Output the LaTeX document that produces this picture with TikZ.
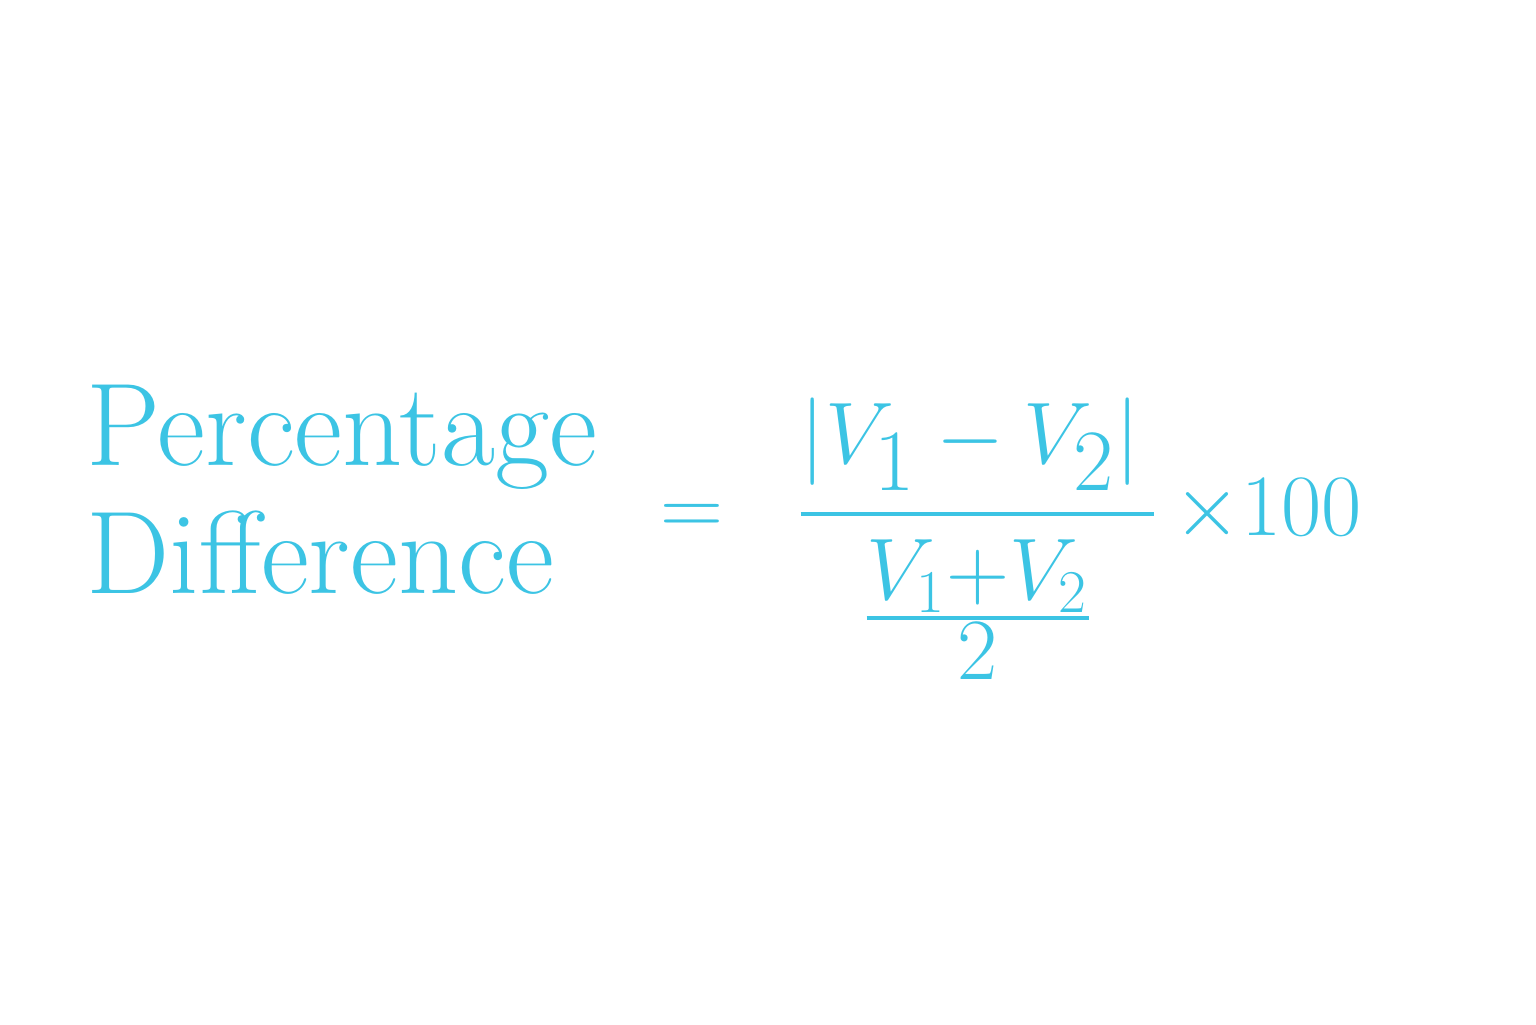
\documentclass[tikz,border=0pt]{standalone}
\usepackage{amsmath}
\usepackage{xcolor}
\definecolor{formulablue}{HTML}{3CC4E4}
\begin{document}
\begin{tikzpicture}[every node/.style={text=formulablue, inner sep=0pt}]
  \useasboundingbox (0,0) rectangle (15.36,10.24);

  \node[anchor=base west, font=\fontsize{33.5}{40}\selectfont] (top) at (0.86, 5.59) {Percentage};
  \node[anchor=base west, font=\fontsize{33.5}{40}\selectfont] (bottom) at (0.86, 4.31) {Difference};
  \node[anchor=west, font=\fontsize{36}{42}\selectfont] (formula) at (6.6, 4.85)
    {$=\;\;\dfrac{\left|V_1 - V_2\right|\rule[-0.3em]{0pt}{0.3em}}{\rule{0pt}{0.9em}\frac{V_1+V_2}{2}}\,{\times}100$};

\end{tikzpicture}
\end{document}
